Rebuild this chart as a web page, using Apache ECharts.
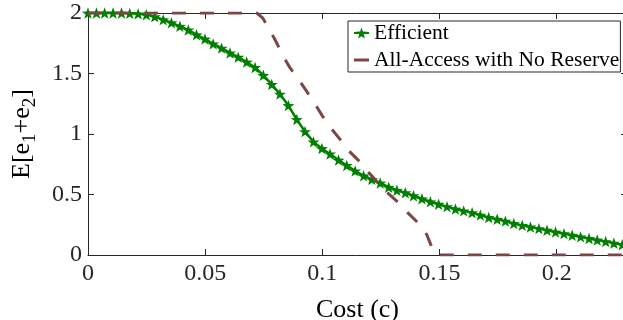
<!DOCTYPE html>
<html>
<head>
<meta charset="utf-8">
<script src="https://cdn.jsdelivr.net/npm/echarts@6/dist/echarts.min.js"></script>
<style>
  html, body { margin: 0; padding: 0; background: #fff; }
  #chart { width: 623px; height: 320px; }
</style>
</head>
<body>
<div id="chart"></div>
<script>
// Cost grid shared by the efficient mechanism curve
const costGrid = [
  0, 0.0036, 0.0071, 0.0107, 0.0143, 0.0178, 0.0214, 0.0249, 0.0285, 0.0321,
  0.0356, 0.0392, 0.0428, 0.0463, 0.0499, 0.0534, 0.0570, 0.0606, 0.0641, 0.0677,
  0.0713, 0.0748, 0.0784, 0.0819, 0.0855, 0.0891, 0.0926, 0.0962, 0.0998, 0.1033,
  0.1069, 0.1104, 0.1140, 0.1176, 0.1211, 0.1247, 0.1283, 0.1318, 0.1354, 0.1389,
  0.1425, 0.1461, 0.1496, 0.1532, 0.1568, 0.1603, 0.1639, 0.1674, 0.1710, 0.1746,
  0.1781, 0.1817, 0.1853, 0.1888, 0.1924, 0.1959, 0.1995, 0.2031, 0.2066, 0.2102,
  0.2138, 0.2173, 0.2209, 0.2244, 0.2280
];

// E[e1+e2] under the efficient mechanism
const efficientValues = [
  2.0, 2.0, 2.0, 2.0, 2.0, 1.997, 1.993, 1.985, 1.97, 1.945,
  1.92, 1.89, 1.86, 1.82, 1.785, 1.745, 1.71, 1.67, 1.635, 1.595,
  1.55, 1.485, 1.41, 1.33, 1.235, 1.12, 1.02, 0.935, 0.88, 0.835,
  0.785, 0.74, 0.695, 0.655, 0.625, 0.595, 0.56, 0.535, 0.515, 0.49,
  0.465, 0.44, 0.42, 0.40, 0.38, 0.365, 0.35, 0.33, 0.31, 0.295,
  0.28, 0.26, 0.245, 0.232, 0.218, 0.205, 0.19, 0.177, 0.163, 0.15,
  0.137, 0.124, 0.111, 0.098, 0.085
];

// All-access mechanism without a reserve price
const allAccessCost = [
  0, 0.072, 0.0745, 0.0776, 0.0806, 0.0831, 0.0861, 0.0899, 0.0934, 0.0968,
  0.1000, 0.1032, 0.1074, 0.1108, 0.1155, 0.1189, 0.1232, 0.1275, 0.1326, 0.1364,
  0.1411, 0.1445, 0.1466, 0.1485, 0.2300
];
const allAccessValues = [
  2.0, 2.0, 1.96, 1.86, 1.75, 1.65, 1.55, 1.45, 1.35, 1.25,
  1.15, 1.06, 0.96, 0.87, 0.78, 0.70, 0.61, 0.52, 0.43, 0.35,
  0.26, 0.17, 0.07, 0, 0
];

const seriesNames = ['Efficient', 'All-Access with No Reserve'];
const xTicks = [0, 0.05, 0.1, 0.15, 0.2];
const yTicks = [0, 0.5, 1, 1.5, 2];

const FONT = "'Liberation Serif', 'Times New Roman', serif";
const AXIS_COLOR = '#262626';
const GREEN = '#008000';
const BROWN = '#7d4646';

// five-pointed star marker
const STAR = 'path://M0,-10L2.35,-3.24L9.51,-3.09L3.80,1.24L5.88,8.09L0,4.2L-5.88,8.09L-3.80,1.24L-9.51,-3.09L-2.35,-3.24Z';
// short bar used as the dashed series' legend key
const BAR = 'path://M0,0H15V3H0Z';

const zip = (xs, ys) => xs.map((x, i) => [x, ys[i]]);

const xMin = 0, xMax = 0.23, xStep = xTicks[1] - xTicks[0];
const yMin = 0, yMax = 2, yStep = yTicks[1] - yTicks[0];

const axisLineStyle = { color: AXIS_COLOR, width: 1 };

function xAxisCfg(pos, withLabels) {
  return {
    type: 'value', position: pos, min: xMin, max: xMax, interval: xStep,
    axisLine: { show: true, onZero: false, lineStyle: axisLineStyle },
    axisTick: { show: true, inside: true, length: 6, lineStyle: axisLineStyle },
    axisLabel: {
      show: withLabels, fontFamily: FONT, fontSize: 24, color: AXIS_COLOR, margin: 7,
      showMaxLabel: false,
      formatter: v => String(+v.toFixed(3))
    },
    splitLine: { show: false }
  };
}
function yAxisCfg(pos, withLabels) {
  return {
    type: 'value', position: pos, min: yMin, max: yMax, interval: yStep,
    axisLine: { show: true, onZero: false, lineStyle: axisLineStyle },
    axisTick: { show: true, inside: true, length: 6, lineStyle: axisLineStyle },
    axisLabel: {
      show: withLabels, fontFamily: FONT, fontSize: 24, color: AXIS_COLOR, margin: 6,
      formatter: v => String(+v.toFixed(2))
    },
    splitLine: { show: false }
  };
}

const xBottom = Object.assign(xAxisCfg('bottom', true), {
  name: 'Cost (c)', nameLocation: 'middle', nameGap: 42,
  nameTextStyle: { fontFamily: FONT, fontSize: 26, color: '#000' }
});
const yLeft = Object.assign(yAxisCfg('left', true), {
  name: 'E[e{s|1}+e{s|2}]', nameLocation: 'middle', nameGap: 48, nameRotate: 90,
  nameTextStyle: {
    fontFamily: FONT, fontSize: 26, color: '#000',
    rich: { s: { fontFamily: FONT, fontSize: 19, color: '#000', padding: [16, 0, 0, 0] } }
  }
});

const chart = echarts.init(document.getElementById('chart'), null, { renderer: 'canvas' });
chart.setOption({
  animation: false,
  backgroundColor: '#fff',
  grid: {
    left: 88, right: -4, top: 13, bottom: 65,
    containLabel: false, outerBoundsMode: 'none'
  },
  xAxis: [xBottom, xAxisCfg('top', false)],
  yAxis: [yLeft, yAxisCfg('right', false)],
  legend: {
    orient: 'vertical', left: 348, top: 21,
    backgroundColor: '#fff', borderColor: AXIS_COLOR, borderWidth: 1,
    padding: [1, 1, 1, 5], itemGap: 5, itemWidth: 15, itemHeight: 14,
    textStyle: { fontFamily: FONT, fontSize: 21.5, color: '#000' },
    data: [
      { name: seriesNames[0] },
      { name: seriesNames[1], icon: BAR, lineStyle: { type: 'solid' } }
    ]
  },
  series: [
    {
      name: seriesNames[0], type: 'line', xAxisIndex: 0, yAxisIndex: 0,
      data: zip(costGrid, efficientValues),
      lineStyle: { color: GREEN, width: 2.5 },
      itemStyle: { color: GREEN },
      symbol: STAR, symbolSize: 12, symbolKeepAspect: true, showAllSymbol: true,
      z: 2
    },
    {
      name: seriesNames[1], type: 'line', xAxisIndex: 0, yAxisIndex: 0,
      data: zip(allAccessCost, allAccessValues),
      lineStyle: { color: BROWN, width: 3, type: [14, 14], cap: 'butt' },
      itemStyle: { color: BROWN },
      symbol: 'none', showSymbol: false,
      z: 3
    }
  ]
});
</script>
</body>
</html>
